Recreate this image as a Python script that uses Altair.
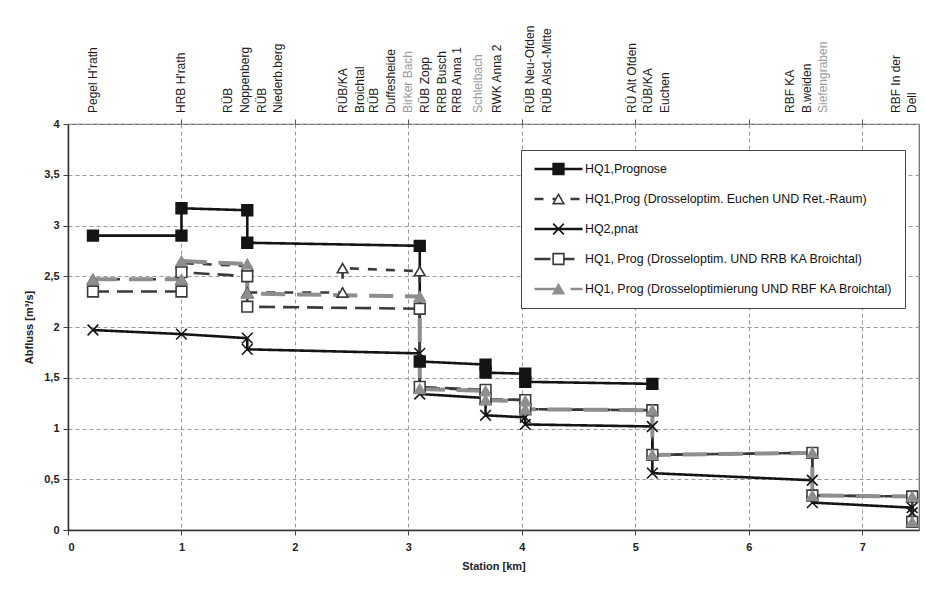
import altair as alt
import pandas as pd

# ---------------- data ----------------
series_names = [
    "HQ1,Prognose",
    "HQ1,Prog (Drosseloptim. Euchen UND Ret.-Raum)",
    "HQ2,pnat",
    "HQ1, Prog (Drosseloptim. UND RRB KA Broichtal)",
    "HQ1, Prog (Drosseloptimierung UND RBF KA Broichtal)",
]

prog_x = [0.22, 1.0, 1.0, 1.58, 1.58, 3.1, 3.1, 3.68, 3.68, 4.03, 4.03, 5.15]
prog_y = [2.90, 2.90, 3.17, 3.15, 2.83, 2.80, 1.66, 1.63, 1.55, 1.54, 1.46, 1.44]

euchen_x = [0.22, 1.0, 1.0, 1.58, 1.58, 2.42, 2.42, 3.1, 3.1, 3.68, 3.68, 4.03, 4.03,
            5.15, 5.15, 6.56, 6.56, 7.44, 7.44]
euchen_y = [2.47, 2.47, 2.63, 2.60, 2.34, 2.34, 2.58, 2.55, 1.40, 1.38, 1.29, 1.28, 1.19,
            1.18, 0.74, 0.76, 0.34, 0.33, 0.08]

hq2_x = [0.22, 1.0, 1.58, 1.58, 3.1, 3.1, 3.68, 3.68, 4.03, 4.03, 5.15, 5.15, 6.56, 6.56,
         7.44, 7.44]
hq2_y = [1.97, 1.93, 1.89, 1.78, 1.74, 1.34, 1.30, 1.13, 1.11, 1.04, 1.02, 0.56, 0.49, 0.27,
         0.22, 0.17]

rrb_x = [0.22, 1.0, 1.0, 1.58, 1.58, 3.1, 3.1, 3.68, 3.68, 4.03, 4.03, 5.15, 5.15, 6.56,
         6.56, 7.44, 7.44]
rrb_y = [2.35, 2.35, 2.54, 2.50, 2.20, 2.18, 1.41, 1.38, 1.29, 1.28, 1.19, 1.18, 0.74, 0.76,
         0.34, 0.33, 0.08]

rbf_x = [0.22, 1.0, 1.0, 1.58, 1.58, 3.1, 3.1, 3.68, 3.68, 4.03, 4.03, 5.15, 5.15, 6.56,
         6.56, 7.44, 7.44]
rbf_y = [2.47, 2.47, 2.65, 2.62, 2.33, 2.30, 1.39, 1.37, 1.28, 1.27, 1.19, 1.18, 0.74, 0.76,
         0.34, 0.33, 0.08]

station_label_km = [0.22, 1.00, 1.41, 1.56, 1.71, 1.85, 2.42, 2.57, 2.70, 2.85, 3.00, 3.15,
                    3.30, 3.43, 3.61, 3.78, 4.07, 4.22, 4.97, 5.11, 5.26, 6.36, 6.51, 6.65,
                    7.30, 7.44]
station_label_text = ["Pegel H'rath", "HRB H'rath", "RÜB", "Noppenberg", "RÜB",
                      "Niederb.berg", "RÜB/KA", "Broichtal", "RÜB", "Duffesheide",
                      "Birker Bach", "RÜB Zopp", "RRB Busch", "RRB Anna 1", "Schleibach",
                      "RWK Anna 2", "RÜB Neu-Ofden", "RÜB Alsd.-Mitte", "RÜ Alt Ofden",
                      "RÜB/KA", "Euchen", "RBF KA", "B.weiden", "Siefengraben",
                      "RBF In der", "Dell"]
station_label_grey = ["Birker Bach", "Schleibach", "Siefengraben"]

x_ticks = [0, 1, 2, 3, 4, 5, 6, 7]
y_ticks = [0, 0.5, 1, 1.5, 2, 2.5, 3, 3.5, 4]

# ---------------- tables ----------------
marker_names = [n + " " for n in series_names]  # separate domain -> separate legend
rows = []
for name, mname, xs, ys in zip(series_names, marker_names,
                               [prog_x, euchen_x, hq2_x, rrb_x, rbf_x],
                               [prog_y, euchen_y, hq2_y, rrb_y, rbf_y]):
    for i, (xv, yv) in enumerate(zip(xs, ys)):
        rows.append({"series": name, "s2": mname, "km": xv, "q": yv, "idx": i})
df = pd.DataFrame(rows)
df_rbf = df[df["series"] == series_names[4]]

labels_df = pd.DataFrame({
    "km": station_label_km,
    "text": station_label_text,
    "col": ["#9a9a9a" if t in station_label_grey else "#1a1a1a" for t in station_label_text],
})

# ---------------- styles ----------------
FONT = "Liberation Sans"
line_colors = ["#141414", "#3a3a3a", "#141414", "#3a3a3a", "#8e8e8e"]
line_dash = [[1, 0], [9, 9], [1, 0], [16, 8], [24, 12]]

pt_shapes = ["square", "triangle-up", "M-1,-1L1,1M-1,1L1,-1", "square", "triangle-up"]
pt_fill = ["#141414", "#ffffff", "transparent", "#ffffff", "#8e8e8e"]
pt_stroke = ["#141414", "#3a3a3a", "#141414", "#3a3a3a", "#8e8e8e"]

LEG_X = 453
LEG_Y = 26
common_leg = dict(title=None, orient="none", legendY=LEG_Y, clipHeight=14, rowPadding=16,
                  padding=12, labelFont=FONT, labelFontSize=12.4, labelLimit=500)

leg_lines = alt.Legend(legendX=LEG_X, symbolType="stroke", symbolSize=48 * 48,
                       symbolStrokeWidth=2.6, labelOffset=1, labelColor="#111111",
                       fillColor="white", strokeColor="#444444", **common_leg)
leg_pts = alt.Legend(legendX=LEG_X + 19, symbolSize=115, symbolStrokeWidth=1.6,
                     labelOffset=1, labelExpr="' '", labelOpacity=0, **common_leg)

xscale = alt.Scale(domain=[0, 7.5], nice=False, zero=False)
yscale = alt.Scale(domain=[0, 4], nice=False)

# ---------------- layers ----------------
lines = alt.Chart(df).mark_line(strokeWidth=2.6).encode(
    x=alt.X("km:Q", scale=xscale,
            axis=alt.Axis(title="Station [km]", values=x_ticks, grid=True, gridDash=[4, 3],
                          gridColor="#9a9a9a", tickColor="#444444", tickSize=5,
                          domainColor="#333333", domainWidth=1.5, labelFont=FONT,
                          labelFontSize=11, labelFontWeight="bold", labelColor="#222222",
                          labelPadding=6, titleFont=FONT, titleFontSize=11,
                          titleFontWeight="bold", titleColor="#222222", titlePadding=8)),
    y=alt.Y("q:Q", scale=yscale,
            axis=alt.Axis(title="Abfluss [m³/s]", values=y_ticks, grid=True, gridDash=[4, 3],
                          gridColor="#9a9a9a", tickColor="#444444", tickSize=5,
                          domainColor="#333333", domainWidth=1.5, labelFont=FONT,
                          labelFontSize=11, labelFontWeight="bold", labelColor="#222222",
                          labelPadding=4, format="~g",
                          labelExpr="replace(datum.label, '.', ',')",
                          titleFont=FONT, titleFontSize=11, titleFontWeight="bold",
                          titleColor="#222222", titlePadding=9)),
    color=alt.Color("series:N", scale=alt.Scale(domain=series_names, range=line_colors),
                    legend=leg_lines),
    strokeDash=alt.StrokeDash("series:N", scale=alt.Scale(domain=series_names, range=line_dash),
                              legend=leg_lines),
    order="idx:Q",
)

rbf_thick = alt.Chart(df_rbf).mark_line(strokeWidth=4, color="#8e8e8e",
                                        strokeDash=[24, 12]).encode(
    x=alt.X("km:Q", scale=xscale, axis=None),
    y=alt.Y("q:Q", scale=yscale, axis=None),
    order="idx:Q",
)

points = alt.Chart(df).mark_point(size=115, opacity=1, strokeWidth=1.6).encode(
    x=alt.X("km:Q", scale=xscale, axis=None),
    y=alt.Y("q:Q", scale=yscale, axis=None),
    shape=alt.Shape("s2:N", scale=alt.Scale(domain=marker_names, range=pt_shapes),
                    legend=leg_pts),
    fill=alt.Fill("s2:N", scale=alt.Scale(domain=marker_names, range=pt_fill),
                  legend=leg_pts),
    stroke=alt.Stroke("s2:N", scale=alt.Scale(domain=marker_names, range=pt_stroke),
                      legend=leg_pts),
)

top_labels = alt.Chart(labels_df).mark_text(
    angle=270, align="left", baseline="middle", font=FONT, fontSize=12
).encode(
    x=alt.X("km:Q", scale=xscale,
            axis=alt.Axis(orient="top", labels=False, grid=False, domain=False, ticks=True,
                          tickSize=5, tickColor="#555555", values=x_ticks[1:], title=None)),
    y=alt.value(-11),
    text="text:N",
    color=alt.Color("col:N", scale=None),
)

chart = alt.layer(top_labels, lines, rbf_thick, points).resolve_axis(
    x="independent", y="independent"
).properties(
    width=851, height=406,
    autosize=alt.AutoSizeParams(type="none"),
    padding={"left": 68, "top": 124, "right": 6, "bottom": 64},
    background="white",
).configure_view(stroke="#666666", strokeWidth=1.2)

chart.save("out.html", embed_options={"renderer": "svg", "actions": False})
